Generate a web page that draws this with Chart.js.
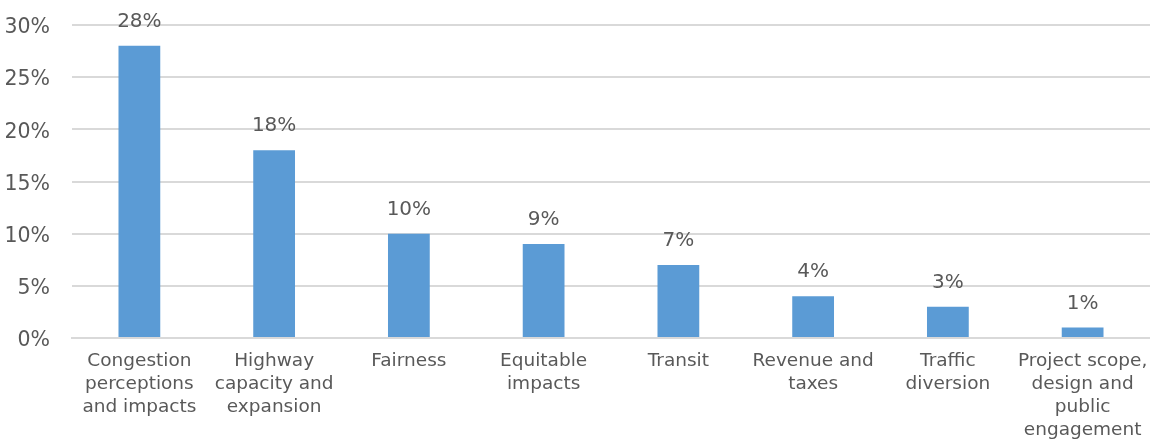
<!DOCTYPE html>
<html>
<head>
<meta charset="utf-8">
<script src="https://cdn.jsdelivr.net/npm/chart.js@4/dist/chart.umd.min.js"></script>
<style>
html,body{margin:0;padding:0;background:#fff;overflow:hidden;}
#wrap{width:1150px;height:440px;position:relative;}
</style>
</head>
<body>
<div id="wrap"><canvas id="c" width="1150" height="440"></canvas></div>
<script>
const categories = [
  ["Congestion","perceptions","and impacts"],
  ["Highway","capacity and","expansion"],
  ["Fairness"],
  ["Equitable","impacts"],
  ["Transit"],
  ["Revenue and","taxes"],
  ["Traffic","diversion"],
  ["Project scope,","design and","public","engagement"]
];
const shares = [28, 18, 10, 9, 7, 4, 3, 1];
const yTicks = [0, 5, 10, 15, 20, 25, 30];

const FONT = "'DejaVu Sans', sans-serif";
const TEXT = "#595959";

const valueLabels = {
  id: 'valueLabels',
  afterDatasetsDraw(chart) {
    const ctx = chart.ctx;
    const meta = chart.getDatasetMeta(0);
    ctx.save();
    ctx.font = "20px " + FONT;
    ctx.fillStyle = TEXT;
    ctx.textAlign = 'center';
    ctx.textBaseline = 'alphabetic';
    meta.data.forEach((bar, i) => {
      ctx.fillText(shares[i] + '%', bar.x, bar.y - 19);
    });
    ctx.restore();
  }
};

new Chart(document.getElementById('c'), {
  type: 'bar',
  data: {
    labels: categories,
    datasets: [{
      data: shares,
      backgroundColor: '#5B9BD5',
      borderWidth: 0,
      barPercentage: 0.62,
      categoryPercentage: 0.5
    }]
  },
  options: {
    responsive: false,
    animation: false,
    devicePixelRatio: 1,
    layout: { padding: { top: 25, right: 0, left: 0, bottom: 0 } },
    plugins: { legend: { display: false }, tooltip: { enabled: false } },
    scales: {
      x: {
        grid: { display: false, drawTicks: false },
        border: { display: true, color: '#d9d9d9', width: 2 },
        ticks: {
          color: TEXT,
          font: { family: FONT, size: 18.5, lineHeight: 1.24 },
          padding: 12,
          maxRotation: 0,
          autoSkip: false
        },
        afterFit(scale) { scale.height = 102; scale.paddingLeft = 0; scale.paddingRight = 0; }
      },
      y: {
        min: 0,
        max: 30,
        afterBuildTicks(scale) { scale.ticks = yTicks.map(v => ({ value: v })); },
        grid: { color: '#d9d9d9', lineWidth: 2, drawTicks: false },
        border: { display: false },
        ticks: {
          color: TEXT,
          font: { family: FONT, size: 20.5 },
          padding: 22,
          labelOffset: 3,
          callback: v => v + '%'
        },
        afterFit(scale) { scale.width = 72; scale.paddingTop = 0; scale.paddingBottom = 0; }
      }
    }
  },
  plugins: [valueLabels]
});
</script>
</body>
</html>
